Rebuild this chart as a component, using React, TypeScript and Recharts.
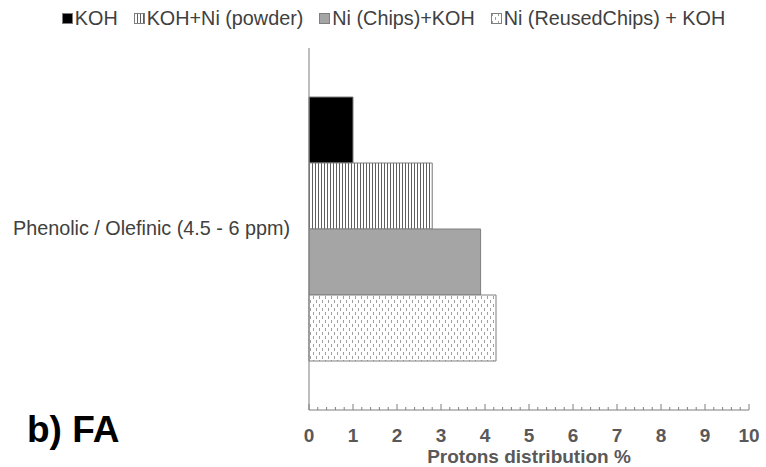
import { Bar, BarChart, XAxis, YAxis } from 'recharts';

const categories = ['Phenolic / Olefinic (4.5 - 6 ppm)'];
const koh = [1.0];
const kohNiPowder = [2.8];
const niChipsKoh = [3.9];
const niReusedChipsKoh = [4.25];
const majorTicks = [0, 1, 2, 3, 4, 5, 6, 7, 8, 9, 10];

const seriesList = [
  { key: 'koh', name: 'KOH', fill: '#000000' },
  { key: 'powder', name: 'KOH+Ni (powder)', fill: 'url(#vlines)' },
  { key: 'chips', name: 'Ni (Chips)+KOH', fill: '#a5a5a5' },
  { key: 'reused', name: 'Ni (ReusedChips) + KOH', fill: 'url(#dashdots)' },
];

const data = categories.map((name, i) => ({
  name,
  koh: koh[i],
  powder: kohNiPowder[i],
  chips: niChipsKoh[i],
  reused: niReusedChipsKoh[i],
}));

const allTicks: number[] = [];
majorTicks.forEach((t, i) => {
  allTicks.push(t);
  if (i < majorTicks.length - 1) {
    for (let k = 1; k < 5; k++) allTicks.push(Math.round((t + k * 0.2) * 10) / 10);
  }
});

const FONT = '"Liberation Sans", Arial, sans-serif';

function XTick(props: any) {
  const { x, y, payload } = props;
  const v = Number(payload.value);
  const major = Math.abs(v - Math.round(v)) < 1e-6;
  return (
    <g>
      <line x1={x} x2={x} y1={y} y2={y - (major ? 6 : 3)} stroke="#7f7f7f" strokeWidth={1} />
      {major && (
        <text x={x} y={y + 32} textAnchor="middle" fill="#595959" fontSize={19} fontWeight="bold" fontFamily={FONT}>
          {v}
        </text>
      )}
    </g>
  );
}

function YTick(props: any) {
  const { x, y, payload } = props;
  return (
    <text x={x} y={y} dy={6} textAnchor="end" fill="#404040" fontSize={19.8} fontFamily={FONT}>
      {payload.value}
    </text>
  );
}

function LegendRow() {
  return (
    <div style={{ position: 'absolute', left: 0, top: 7, width: 766, display: 'flex', justifyContent: 'center', gap: 16, fontFamily: FONT, fontSize: 19.8, color: '#404040', paddingLeft: 21, boxSizing: 'border-box' }}>
      {seriesList.map((s) => (
        <div key={s.key} style={{ display: 'flex', alignItems: 'center' }}>
          <svg width={11} height={11} style={{ marginRight: 2 }}>
            <rect x={0.5} y={0.5} width={10} height={10} fill={s.fill} stroke="#7f7f7f" />
          </svg>
          <span>{s.name}</span>
        </div>
      ))}
    </div>
  );
}

export default function App() {
  return (
    <div style={{ position: 'fixed', left: 0, top: 0, width: 766, height: 467, background: '#fff' }}>
      <svg width={0} height={0} style={{ position: 'absolute' }}>
        <defs>
          <pattern id="vlines" width={3} height={4} patternUnits="userSpaceOnUse">
            <rect width={3} height={4} fill="#ffffff" />
            <rect x={0} width={1} height={4} fill="#5e5e5e" />
          </pattern>
          <pattern id="dashdots" width={6} height={8} patternUnits="userSpaceOnUse">
            <rect width={6} height={8} fill="#ffffff" />
            <rect x={1} y={0} width={1} height={3} fill="#a0a0a0" />
            <rect x={4} y={4} width={1} height={3} fill="#a0a0a0" />
          </pattern>
        </defs>
      </svg>
      <LegendRow />
      <BarChart
        width={766}
        height={467}
        data={data}
        layout="vertical"
        margin={{ top: 48, right: 17, left: 0, bottom: 0 }}
        barGap={0}
        barSize={66}
      >
        <XAxis
          type="number"
          domain={[0, 10]}
          ticks={allTicks}
          interval={0}
          height={57}
          tickSize={0}
          tickMargin={0}
          tick={<XTick />}
          axisLine={{ stroke: '#7f7f7f' }}
          tickLine={false}
          label={{ value: 'Protons distribution %', position: 'insideBottom', offset: 4, fill: '#595959', fontSize: 19, fontWeight: 'bold', fontFamily: FONT }}
        />
        <YAxis
          type="category"
          dataKey="name"
          width={309}
          axisLine={{ stroke: '#7f7f7f' }}
          tickLine={false}
          tickSize={0}
          tickMargin={19}
          tick={<YTick />}
        />
        {seriesList.map((s) => (
          <Bar key={s.key} dataKey={s.key} name={s.name} fill={s.fill} stroke="#7f7f7f" strokeWidth={1} isAnimationActive={false} />
        ))}
      </BarChart>
      <div style={{ position: 'absolute', left: 27, top: 409, fontFamily: FONT, fontWeight: 'bold', fontSize: 37, color: '#000' }}>
        b) FA
      </div>
    </div>
  );
}
